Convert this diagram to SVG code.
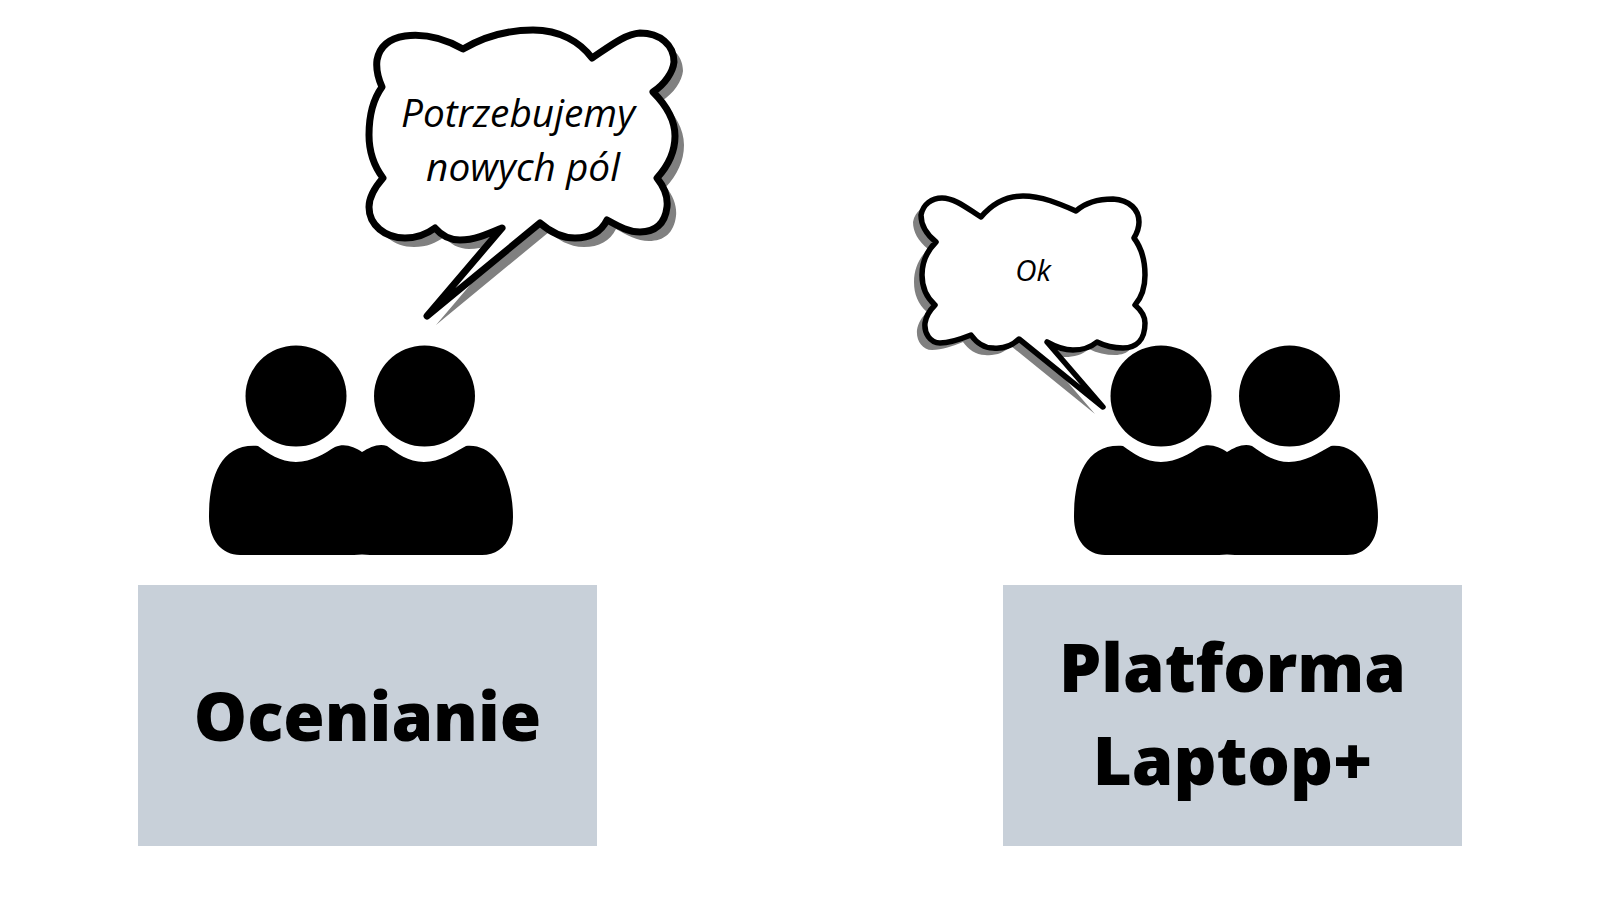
<svg xmlns="http://www.w3.org/2000/svg" width="1600" height="900" viewBox="0 0 1600 900">
<style>
.box{fill:#c8d0d9}
.t{font-family:"Open Sans","Liberation Sans",sans-serif;font-weight:800;font-size:67px;fill:#000;text-anchor:middle}
.q{font-family:"Open Sans","Liberation Sans",sans-serif;font-style:italic;font-weight:370;fill:#000;text-anchor:middle}
.sh{fill:#808080;stroke:none}
.ln{fill:#fff;stroke:#000;stroke-linejoin:round;stroke-linecap:round}
</style>
<defs>
<g id="people">
<circle cx="296" cy="396" r="50.500"/>
<circle cx="424.500" cy="396" r="50.500"/>
<path d="M258 446C268 453 280 462 296 462C312 462 325 453 335 447C345 443 354 447 362 452C370 447 379 443 387 446C397 453 408 462 424 462C440 462 453 453 466 446C496 443 513 478 513 517C513 542 500 555 482 555L370 555L362 554.500L354 555L240 555C222 555 209 540 209 517C209 478 220 443 258 446Z"/>
</g>
<path id="big" d="M463 49C485 36 510 30 533 30C560 30 580 42 592 58C610 46 625 34 640 33C660 33 674 45 674 62C673 72 665 84 653 92C666 105 675 120 675 136C675 152 668 166 657 178C665 188 668 198 667 207C665 224 655 232 640 232C628 232 618 226 607 220C601 232 590 238 575 238C560 238 548 230 540 223L427 316L502 228C488 234 475 240 460 240C450 240 441 235 435 228C427 234 418 238 405 238C385 238 369 225 369 207C369 196 376 186 383 178C374 166 369 150 369 135C369 115 374 98 382 87C378 78 376 68 377 60C380 44 392 38 405 36C420 34 440 36 463 49Z"/>
<path id="small" d="M981 217C992 204 1006 196 1023 196C1042 196 1060 204 1076 211C1085 203 1098 199 1113 199C1130 200 1139 210 1139 222C1139 228 1137 233 1134 238C1143 250 1145 262 1145 275C1145 288 1142 297 1135 305C1142 311 1145 317 1145 323C1145 340 1136 348 1123 348C1114 348 1105 346 1097 342C1090 348 1082 350 1073 350C1063 350 1054 346 1047 342L1103 407L1019 339C1012 346 1003 349 993 348C984 348 976 342 971 335C961 339 950 343 940 343C930 343 924 333 925 323C926 316 930 310 935 305C926 297 922 287 922 275C922 262 927 251 936 242C926 234 921 225 921 215C923 204 932 198 942 198C955 198 968 209 981 217Z"/>
</defs>
<g id="box-ocenianie"><rect class="box" x="138" y="585" width="459" height="261"/><text class="t" x="367.500" y="741">Ocenianie</text></g>
<g id="box-laptop"><rect class="box" x="1003" y="585" width="459" height="261"/><text class="t" x="1232.500" y="692">Platforma</text><text class="t" x="1232.500" y="785">Laptop+</text></g>
<g id="people-left"><use href="#people"/></g>
<g id="people-right"><use href="#people" x="865"/></g>
<g id="bubble-left">
<use href="#big" class="sh" x="9" y="9"/>
<use href="#big" class="ln" stroke-width="7"/>
<text class="q" font-size="38.800" x="518" y="127">Potrzebujemy</text>
<text class="q" font-size="38.800" x="523" y="181">nowych pól</text>
</g>
<g id="bubble-right">
<use href="#small" class="sh" x="-8" y="7"/>
<use href="#small" class="ln" stroke-width="5.500"/>
<text class="q" font-size="29.500" x="1033" y="281">Ok</text>
</g>
</svg>
